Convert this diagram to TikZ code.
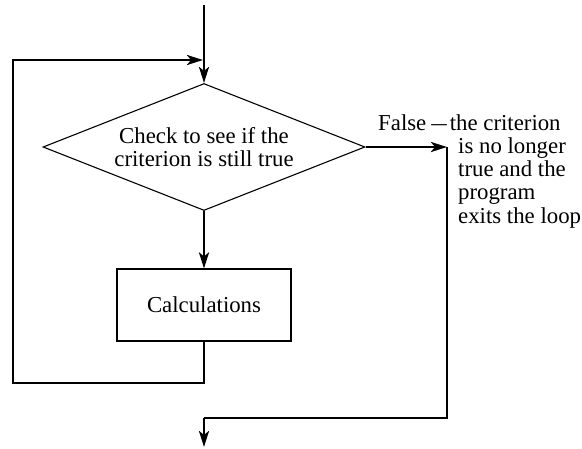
\documentclass[tikz,border=0pt]{standalone}
\usepackage{fontspec}
\usepackage{graphicx}
\setmainfont{Liberation Serif}
\usetikzlibrary{arrows.meta,shapes.geometric}
\begin{document}
\begin{tikzpicture}[x=1pt,y=-1pt,
  thick line/.style={line width=2.8pt, line join=miter},
  flow/.style={thick line, -{Stealth[length=16pt,width=10pt,inset=4pt]}},
  lbl/.style={font=\fontsize{22.8}{23.3}\selectfont, inner sep=0pt},
  shapebox/.style={draw, line width=1.1pt}]
\useasboundingbox (0,0) rectangle (582,448);
\node[shapebox, diamond, aspect=2.5, minimum width=322pt, minimum height=127pt,
      inner sep=0pt, align=center, lbl] (chk) at (204,147)
      {Check to see if the\\criterion is still true};
\node[shapebox, lbl, minimum width=174pt, minimum height=72pt] (calc) at (204,305) {Calculations};
\coordinate (start) at (204,5);
\coordinate (loopT) at (203,60);
\coordinate (loopTL) at (13,60);
\coordinate (loopB) at (204,383);
\coordinate (loopBL) at (13,383);
\coordinate (fR) at (447,147);
\coordinate (fRB) at (447,418);
\coordinate (exitC) at (204,418);
\coordinate (exitE) at (204,447);
\draw[flow] (start) -- (chk.north);
\draw[flow] (chk.south) -- (calc.north);
\draw[flow] (calc.south) -- (loopB) -- (loopBL) -- (loopTL) -- (loopT);
\draw[flow] (chk.east) -- (fR);
\draw[thick line] (fR) -- (fRB) -- (exitC);
\draw[flow] (exitC) -- (exitE);
\node[lbl, anchor=base west] (f1) at (378,130)
  {False\hspace{5pt}\scalebox{0.68}[1]{—}\hspace{3pt}the criterion};
\node[lbl, anchor=base west, align=left] (f2) at (458,223)
  {is no longer\\true and the\\program\\exits the loop};
\end{tikzpicture}
\end{document}
